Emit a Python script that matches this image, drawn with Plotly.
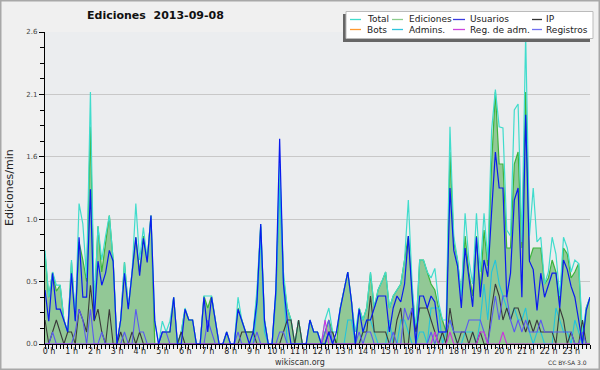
import plotly.graph_objects as go

# ---------------- data (10-minute steps, 00:00 .. 24:00) ----------------
total = [
    0.78, 0.39, 0.6, 0.49, 0.49, 0.2,
    0.1, 0.7, 0.2, 1.17, 1.0, 0.55,
    2.1, 0.3, 0.98, 0.7, 0.9, 1.07,
    0.7, 0.0, 0.2, 0.68, 0.3, 0.6,
    1.17, 0.7, 0.97, 0.7, 1.07, 0.2,
    0.0, 0.19, 0.1, 0.19, 0.39, 0.0,
    0.1, 0.3, 0.2, 0.2, 0.0, 0.0,
    0.4, 0.4, 0.4, 0.2, 0.0, 0.0,
    0.1, 0.0, 0.0, 0.39, 0.2, 0.1,
    0.1, 0.1, 0.45, 1.0, 0.2, 0.0,
    0.0, 0.45, 1.5, 0.6, 0.3, 0.2,
    0.0, 0.2, 0.0, 0.0, 0.2, 0.1,
    0.1, 0.0, 0.2, 0.3, 0.1, 0.1,
    0.3, 0.45, 0.6, 0.35, 0.1, 0.3,
    0.2, 0.3, 0.6, 0.3, 0.45, 0.52,
    0.6, 0.3, 0.4, 0.45, 0.5, 0.7,
    1.2, 0.5, 0.1, 0.7, 0.7, 0.6,
    0.55, 0.63, 0.35, 0.2, 0.2, 1.81,
    0.9, 0.7, 0.4, 1.09, 0.7, 0.5,
    1.09, 0.6, 1.09, 0.7, 1.78, 2.12,
    1.81, 1.8, 0.95, 0.9, 1.95, 2.0,
    0.85, 2.58, 0.9, 1.3, 0.85, 0.89,
    0.5, 0.6, 0.89, 0.75, 0.4, 0.89,
    0.8, 0.6, 0.7, 0.67, 0.1, 0.3, 0.39,
]
ediciones = [
    0.75, 0.39, 0.6, 0.44, 0.49, 0.2,
    0.1, 0.68, 0.2, 0.85, 0.7, 0.52,
    1.81, 0.28, 0.98, 0.6, 0.84, 1.07,
    0.7, 0.0, 0.2, 0.68, 0.3, 0.58,
    0.89, 0.6, 0.9, 0.7, 1.07, 0.0,
    0.0, 0.1, 0.1, 0.1, 0.39, 0.0,
    0.1, 0.29, 0.2, 0.2, 0.0, 0.0,
    0.4, 0.3, 0.4, 0.2, 0.0, 0.0,
    0.1, 0.0, 0.0, 0.3, 0.2, 0.1,
    0.1, 0.1, 0.4, 0.98, 0.2, 0.0,
    0.0, 0.4, 1.4, 0.55, 0.3, 0.2,
    0.0, 0.2, 0.0, 0.0, 0.2, 0.1,
    0.1, 0.0, 0.1, 0.2, 0.1, 0.0,
    0.3, 0.45, 0.6, 0.35, 0.0, 0.3,
    0.2, 0.3, 0.59, 0.3, 0.45, 0.52,
    0.6, 0.3, 0.4, 0.45, 0.5, 0.7,
    0.9, 0.45, 0.1, 0.7, 0.7, 0.6,
    0.5, 0.45, 0.3, 0.2, 0.1, 1.6,
    0.85, 0.7, 0.4, 0.9, 0.6, 0.4,
    0.9, 0.45, 0.95, 0.65, 1.5, 2.1,
    1.5, 1.5, 0.8, 0.8, 1.5, 1.6,
    0.8, 2.1, 0.7, 0.8, 0.8, 0.8,
    0.5, 0.55, 0.7, 0.6, 0.35, 0.8,
    0.75, 0.55, 0.6, 0.67, 0.0, 0.3, 0.39,
]
usuarios = [
    0.45, 0.19, 0.59, 0.29, 0.29, 0.19,
    0.1, 0.59, 0.19, 0.89, 0.39, 0.39,
    1.29, 0.2, 0.69, 0.49, 0.59, 0.78,
    0.69, 0.0, 0.2, 0.59, 0.29, 0.59,
    0.89, 0.57, 0.88, 0.68, 1.07, 0.19,
    0.0, 0.1, 0.1, 0.1, 0.39, 0.0,
    0.0, 0.29, 0.2, 0.2, 0.0, 0.0,
    0.39, 0.1, 0.39, 0.2, 0.0, 0.0,
    0.1, 0.0, 0.0, 0.29, 0.2, 0.1,
    0.0, 0.1, 0.35, 1.0, 0.19, 0.0,
    0.0, 0.45, 1.71, 0.5, 0.2, 0.0,
    0.0, 0.0, 0.0, 0.0, 0.2, 0.1,
    0.1, 0.0, 0.0, 0.1, 0.0, 0.1,
    0.29, 0.45, 0.6, 0.35, 0.0, 0.29,
    0.1, 0.2, 0.2, 0.3, 0.4, 0.4,
    0.4, 0.1, 0.3, 0.4, 0.35, 0.5,
    0.9, 0.4, 0.0, 0.4, 0.4, 0.3,
    0.4, 0.35, 0.1, 0.1, 0.1, 1.3,
    0.78, 0.65, 0.3, 0.8, 0.53, 0.31,
    0.89, 0.39, 0.7, 0.56, 1.1, 1.6,
    1.3, 1.3, 0.39, 0.59, 1.2, 1.3,
    0.39, 1.91, 0.69, 0.62, 0.28, 0.59,
    0.39, 0.5, 0.59, 0.59, 0.3, 0.7,
    0.62, 0.48, 0.39, 0.2, 0.0, 0.28, 0.39,
]
ip = [
    0.2, 0.0, 0.1, 0.2, 0.1, 0.0,
    0.1, 0.1, 0.0, 0.29, 0.2, 0.1,
    0.49, 0.19, 0.29, 0.1, 0.0, 0.29,
    0.0, 0.0, 0.1, 0.0, 0.0, 0.1,
    0.0, 0.1, 0.0, 0.0, 0.0, 0.0,
    0.0, 0.0, 0.0, 0.0, 0.0, 0.0,
    0.1, 0.0, 0.0, 0.0, 0.0, 0.0,
    0.0, 0.0, 0.0, 0.0, 0.0, 0.0,
    0.0, 0.0, 0.0, 0.0, 0.1, 0.1,
    0.1, 0.1, 0.0, 0.0, 0.0, 0.0,
    0.0, 0.0, 0.0, 0.1, 0.2, 0.2,
    0.0, 0.2, 0.0, 0.0, 0.0, 0.0,
    0.0, 0.0, 0.0, 0.1, 0.1, 0.0,
    0.0, 0.0, 0.0, 0.0, 0.0, 0.0,
    0.1, 0.1, 0.4, 0.1, 0.1, 0.1,
    0.1, 0.0, 0.0, 0.2, 0.3, 0.0,
    0.0, 0.3, 0.1, 0.3, 0.3, 0.3,
    0.2, 0.1, 0.0, 0.1, 0.0, 0.3,
    0.1, 0.0, 0.1, 0.1, 0.0, 0.1,
    0.0, 0.1, 0.0, 0.0, 0.3, 0.5,
    0.4, 0.2, 0.3, 0.2, 0.3, 0.3,
    0.2, 0.1, 0.2, 0.1, 0.2, 0.1,
    0.1, 0.1, 0.1, 0.0, 0.3, 0.2,
    0.0, 0.1, 0.0, 0.0, 0.2, 0.0, 0.0,
]
admins = [
    0, 0, 0, 0, 0, 0,
    0, 0, 0, 0, 0, 0,
    0, 0, 0, 0, 0, 0,
    0, 0, 0, 0, 0, 0,
    0, 0, 0, 0, 0, 0,
    0, 0, 0, 0, 0, 0,
    0, 0, 0, 0, 0, 0,
    0, 0, 0, 0, 0, 0,
    0, 0, 0, 0, 0, 0,
    0, 0, 0.3, 0.9, 0.1, 0,
    0, 0.4, 1.3, 0.5, 0, 0,
    0, 0, 0, 0, 0, 0,
    0, 0, 0, 0.1, 0, 0,
    0, 0, 0.2, 0.2, 0, 0,
    0.1, 0.2, 0.2, 0.1, 0, 0,
    0, 0.2, 0, 0, 0.2, 0.2,
    0.1, 0, 0, 0.1, 0.1, 0,
    0.3, 0.3, 0.3, 0, 0.1, 0.2,
    0.1, 0, 0, 0.1, 0.1, 0.1,
    0, 0.2, 0.5, 0.2, 0.6, 0.7,
    0.5, 0.4, 0.3, 0.2, 0.3, 0.2,
    0.2, 0.3, 0.1, 0, 0.1, 0.1,
    0, 0, 0, 0.3, 0.2, 0.1,
    0.1, 0, 0.2, 0.1, 0, 0, 0,
]
registros = [
    0, 0, 0.1, 0, 0, 0,
    0, 0, 0.1, 0.29, 0.2, 0,
    0.29, 0, 0, 0.1, 0, 0,
    0, 0, 0, 0.1, 0, 0,
    0.29, 0.1, 0.1, 0, 0, 0,
    0, 0.1, 0.1, 0, 0, 0,
    0, 0, 0, 0, 0, 0,
    0, 0.2, 0.1, 0, 0, 0,
    0, 0, 0, 0.1, 0, 0,
    0, 0, 0.1, 0, 0, 0,
    0, 0, 0.1, 0.1, 0, 0,
    0, 0, 0, 0, 0, 0,
    0, 0, 0.1, 0.2, 0, 0,
    0, 0, 0, 0, 0, 0.1,
    0, 0.1, 0.1, 0, 0, 0,
    0, 0, 0.1, 0, 0, 0.3,
    0.2, 0.3, 0, 0, 0, 0,
    0.1, 0, 0.1, 0.1, 0.1, 0.2,
    0.1, 0.1, 0.1, 0.1, 0.2, 0.2,
    0.2, 0.2, 0.1, 0, 0.2, 0.4,
    0.2, 0.4, 0.4, 0.2, 0.1, 0.2,
    0.1, 0.2, 0.1, 0.1, 0.1, 0.2,
    0.1, 0.1, 0.1, 0.1, 0.1, 0.1,
    0.1, 0.1, 0, 0, 0.1, 0, 0,
]
reg_adm = [
    0, 0, 0, 0, 0, 0,
    0, 0, 0, 0, 0, 0,
    0, 0, 0, 0, 0, 0,
    0, 0, 0, 0, 0, 0,
    0, 0, 0, 0, 0, 0,
    0, 0, 0, 0, 0, 0,
    0, 0, 0, 0, 0, 0,
    0, 0, 0, 0, 0, 0,
    0, 0, 0, 0, 0, 0,
    0, 0, 0, 0, 0, 0,
    0, 0, 0, 0, 0, 0,
    0, 0, 0, 0, 0, 0,
    0, 0, 0.2, 0, 0, 0,
    0, 0, 0, 0, 0, 0,
    0, 0, 0, 0, 0, 0,
    0, 0, 0, 0, 0, 0,
    0, 0, 0, 0, 0, 0,
    0, 0.1, 0, 0, 0, 0.1,
    0, 0, 0, 0, 0, 0,
    0, 0.1, 0.1, 0, 0, 0,
    0, 0.1, 0, 0, 0, 0,
    0, 0, 0, 0, 0, 0,
    0, 0, 0, 0, 0, 0,
    0, 0, 0, 0, 0, 0, 0,
]
hours = [i / 6 for i in range(len(total))]
hour_ticks = list(range(24))
hour_labels = [f"{h} h" for h in hour_ticks]
y_ticks = [0, 0.52, 1.04, 1.56, 2.08, 2.6]
y_labels = ["0.0", "0.5", "1.0", "1.6", "2.1", "2.6"]

legend_items = [
    ("Total", "#40DCCC"), ("Ediciones", "#8ccc8c"), ("Usuarios", "#3a3ae0"), ("IP", "#333333"),
    ("Bots", "#ff9a30"), ("Admins.", "#30c4dc"), ("Reg. de adm.", "#cc44dd"), ("Registros", "#7070f0"),
]

# ---------------- layout geometry ----------------
W, H = 600, 370
L, R, T, B = 45, 10, 32, 26
PW, PH = W - L - R, H - T - B


def px(x):
    return (x - L) / PW


def py(y):
    return (H - B - y) / PH


FONT = "DejaVu Sans"

fig = go.Figure()
fig.add_trace(go.Scatter(x=hours, y=ediciones, mode="lines", fill="tozeroy",
                         fillcolor="#92c896", line=dict(color="#3cb43c", width=1.2),
                         name="Ediciones", showlegend=False))
fig.add_trace(go.Scatter(x=hours, y=total, mode="lines", line=dict(color="#40DCCC", width=1.2),
                         name="Total", showlegend=False))
fig.add_trace(go.Scatter(x=hours, y=admins, mode="lines", line=dict(color="#22c4dc", width=1.1),
                         name="Admins.", showlegend=False))
fig.add_trace(go.Scatter(x=hours, y=ip, mode="lines", line=dict(color="#3a3a3a", width=1.1),
                         name="IP", showlegend=False))
fig.add_trace(go.Scatter(x=hours, y=registros, mode="lines", line=dict(color="#5a5af0", width=1.1),
                         name="Registros", showlegend=False))
fig.add_trace(go.Scatter(x=hours, y=reg_adm, mode="lines", line=dict(color="#cc33dd", width=1.1),
                         name="Reg. de adm.", showlegend=False))
fig.add_trace(go.Scatter(x=hours, y=usuarios, mode="lines", line=dict(color="#0a1aee", width=1.2),
                         name="Usuarios", showlegend=False))

shapes = []
annotations = []
# outer border
shapes.append(dict(type="rect", xref="paper", yref="paper",
                   x0=px(0.75), x1=px(W - 0.75), y0=py(H - 0.75), y1=py(0.75),
                   line=dict(color="#a8a8a8", width=1.5), layer="below"))
# legend box with shadow
shapes.append(dict(type="rect", xref="paper", yref="paper", x0=px(343), x1=px(590),
                   y0=py(42), y1=py(14), fillcolor="#666666", line=dict(width=0)))
shapes.append(dict(type="rect", xref="paper", yref="paper", x0=px(346), x1=px(593),
                   y0=py(38.5), y1=py(11.5), fillcolor="white", line=dict(color="#bbbbbb", width=1)))
col_sample = [(350, 361), (392, 403), (453, 465), (532, 542)]
col_text = [366, 408, 469, 545]
row_y = [19.5, 29.5]
for k, (name, color) in enumerate(legend_items):
    r, c = divmod(k, 4)
    shapes.append(dict(type="line", xref="paper", yref="paper",
                       x0=px(col_sample[c][0]), x1=px(col_sample[c][1]),
                       y0=py(row_y[r]), y1=py(row_y[r]), line=dict(color=color, width=1.3)))
    annotations.append(dict(text=name, xref="paper", yref="paper", x=px(col_text[c]), y=py(row_y[r]),
                            xanchor="left", yanchor="middle", showarrow=False, borderpad=0,
                            font=dict(family=FONT, size=9, color="#222222")))

annotations += [
    dict(text="<b>Ediciones\u00a0 2013-09-08</b>", xref="paper", yref="paper", x=px(155), y=py(16),
         xanchor="center", yanchor="middle", showarrow=False,
         font=dict(family=FONT, size=11, color="#111111")),
    dict(text="Ediciones/min", xref="paper", yref="paper", x=px(9), y=py(188), textangle=-90,
         xanchor="center", yanchor="middle", showarrow=False,
         font=dict(family=FONT, size=11, color="#222222")),
    dict(text="wikiscan.org", xref="paper", yref="paper", x=px(300), y=py(362),
         xanchor="center", yanchor="middle", showarrow=False,
         font=dict(family=FONT, size=8, color="#333333")),
    dict(text="CC BY-SA 3.0", xref="paper", yref="paper", x=px(589), y=py(362),
         xanchor="right", yanchor="middle", showarrow=False,
         font=dict(family=FONT, size=6, color="#333333")),
]

fig.update_layout(
    width=W, height=H,
    margin=dict(l=L, r=R, t=T, b=B, pad=0),
    paper_bgcolor="#f0f0f0", plot_bgcolor="#ebedef",
    showlegend=False,
    shapes=shapes, annotations=annotations,
    font=dict(family=FONT, color="#222222"),
    xaxis=dict(range=[0, 24], tickvals=hour_ticks, ticktext=hour_labels,
               ticks="outside", ticklen=4, tickcolor="black", tickwidth=1,
               showline=True, linecolor="black", linewidth=1.2, showgrid=False, zeroline=False,
               tickfont=dict(family=FONT, size=8, color="#222222"),
               ticklabelshift=4, ticklabelstandoff=-5,
               minor=dict(dtick=1 / 6, tick0=0, ticks="outside", ticklen=4, tickcolor="black", showgrid=False)),
    yaxis=dict(range=[0, 2.6], tickvals=y_ticks, ticktext=y_labels,
               ticks="outside", ticklen=5, tickcolor="black", tickwidth=1,
               showline=True, linecolor="black", linewidth=1.2,
               showgrid=True, gridcolor="#c8c8c8", gridwidth=1, zeroline=False,
               tickfont=dict(family=FONT, size=7, color="#444444"),
               minor=dict(dtick=0.13, tick0=0, ticks="outside", ticklen=4, tickcolor="black", showgrid=False)),
)

fig.write_html("out.html", config={"displayModeBar": False},
               post_script="document.body.style.margin='0';document.body.style.overflow='hidden';")
